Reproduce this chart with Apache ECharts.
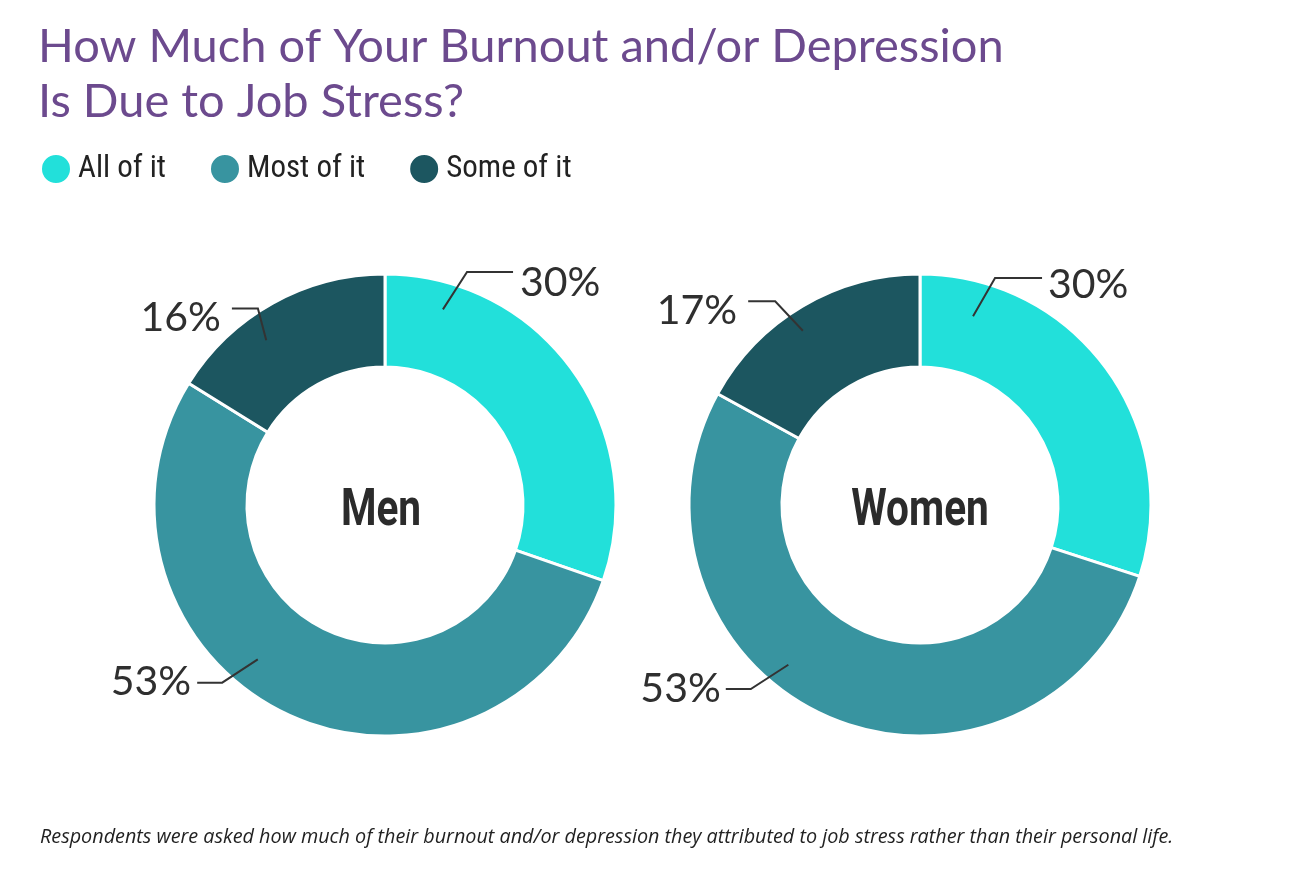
<!DOCTYPE html>
<html>
<head>
<meta charset="utf-8">
<script src="https://cdn.jsdelivr.net/npm/echarts@6/dist/echarts.min.js"></script>
<style>
html,body{margin:0;padding:0;background:#fff;}
#main{width:1290px;height:878px;}
</style>
</head>
<body>
<div id="main"></div>
<script>
// ---- data ----
const TITLE = 'How Much of Your Burnout and/or Depression\nIs Due to Job Stress?';
const FOOTNOTE = 'Respondents were asked how much of their burnout and/or depression they attributed to job stress rather than their personal life.';
const CATEGORIES = ['All of it', 'Most of it', 'Some of it'];
const GROUPS = ['Men', 'Women'];
const MEN = [30, 53, 16];
const WOMEN = [30, 53, 17];

// ---- styles ----
const COLORS = ['#22e0da', '#3894a0', '#1c5660'];
const CENTERS_X = [385, 920];
const CENTER_Y = 505;
const RADIUS = [138, 231];
const CENTER_TEXT_DX = [-4, 0];
// leader-line styling per label: polar start/elbow (clockwise deg from top), horizontal length, text gap, text dy
const LEADERS = [
  [{a0:16.5,r0:204,a1:19.4,r1:247,len:46,gap:7,dy:11},
   {a0:219.5,r0:200,a1:222.5,r1:241,len:25,gap:6,dy:-1},
   {a0:324.2,r0:203,a1:327.1,r1:234,len:26,gap:11,dy:9}],
  [{a0:15.7,r0:196,a1:18.3,r1:239,len:47,gap:6,dy:7},
   {a0:219.5,r0:207,a1:222.6,r1:250,len:25,gap:5,dy:0},
   {a0:326.1,r0:210,a1:324.6,r1:250,len:27,gap:11,dy:10}]
];

const chart = echarts.init(document.getElementById('main'), null, {renderer: 'canvas'});

function polar(cx, cy, a, r) {
  const t = a * Math.PI / 180;
  return [cx + r * Math.sin(t), cy - r * Math.cos(t)];
}

function makeLayout(seriesIndex) {
  return function (params) {
    const L = LEADERS[seriesIndex][params.dataIndex];
    const cx = CENTERS_X[seriesIndex], cy = CENTER_Y;
    const p0 = polar(cx, cy, L.a0, L.r0);
    const p1 = polar(cx, cy, L.a1, L.r1);
    const right = Math.sin(L.a1 * Math.PI / 180) > 0;
    const p2 = [p1[0] + (right ? L.len : -L.len), p1[1]];
    return {
      x: p2[0] + (right ? L.gap : -L.gap),
      y: p1[1] + L.dy,
      align: right ? 'left' : 'right',
      verticalAlign: 'middle',
      labelLinePoints: [p0, p1, p2]
    };
  };
}

const seriesData = [MEN, WOMEN];

// base donut series (fills)
const baseSeries = GROUPS.map((g, i) => ({
  name: g,
  type: 'pie',
  z: 2,
  center: [CENTERS_X[i], CENTER_Y],
  radius: RADIUS,
  startAngle: 90,
  clockwise: true,
  silent: true,
  itemStyle: {borderColor: '#ffffff', borderWidth: 3},
  label: {show: false},
  labelLine: {show: false},
  emphasis: {disabled: true},
  data: CATEGORIES.map((c, k) => ({name: c, value: seriesData[i][k]}))
}));

// overlay series carrying the value labels and leader lines above the fills
const labelSeries = GROUPS.map((g, i) => ({
  name: g + ' labels',
  type: 'pie',
  z: 5,
  center: [CENTERS_X[i], CENTER_Y],
  radius: RADIUS,
  startAngle: 90,
  clockwise: true,
  silent: true,
  avoidLabelOverlap: false,
  itemStyle: {color: 'rgba(0,0,0,0)', borderWidth: 0},
  label: {
    show: true,
    position: 'outside',
    formatter: '{c}%',
    fontFamily: 'Lato',
    fontSize: 41,
    color: '#2f2f2f'
  },
  labelLine: {
    show: true,
    lineStyle: {color: '#333333', width: 2}
  },
  labelLayout: makeLayout(i),
  emphasis: {disabled: true},
  data: CATEGORIES.map((c, k) => ({name: c, value: seriesData[i][k]}))
}));

const option = {
  backgroundColor: '#ffffff',
  animation: false,
  color: COLORS,
  title: [
    {
      text: TITLE,
      left: 33,
      top: 14,
      textStyle: {
        fontFamily: 'Lato',
        fontWeight: 'normal',
        fontSize: 47,
        lineHeight: 55,
        color: '#6c4a8e'
      }
    },
    {
      text: FOOTNOTE,
      left: 35,
      top: 822,
      textStyle: {
        fontFamily: 'Open Sans',
        fontStyle: 'italic',
        fontWeight: 'normal',
        fontSize: 19.8,
        color: '#222222'
      }
    }
  ],
  legend: {
    data: CATEGORIES,
    left: 35,
    top: 148,
    icon: 'circle',
    itemWidth: 30,
    itemHeight: 30,
    itemGap: 43,
    textStyle: {
      fontFamily: "'Roboto Condensed', 'Liberation Sans Narrow', 'DejaVu Sans Condensed', Roboto",
      fontSize: 31,
      color: '#222222',
      padding: [0, 0, 0, 2]
    }
  },
  graphic: GROUPS.map((g, i) => ({
    type: 'text',
    x: CENTERS_X[i] + CENTER_TEXT_DX[i],
    y: CENTER_Y + 7,
    scaleX: 0.78,
    silent: true,
    style: {
      text: g,
      align: 'center',
      verticalAlign: 'middle',
      font: 'bold 52px Roboto',
      fill: '#2b2b2b'
    }
  })),
  series: baseSeries.concat(labelSeries)
};

chart.setOption(option);
</script>
</body>
</html>
